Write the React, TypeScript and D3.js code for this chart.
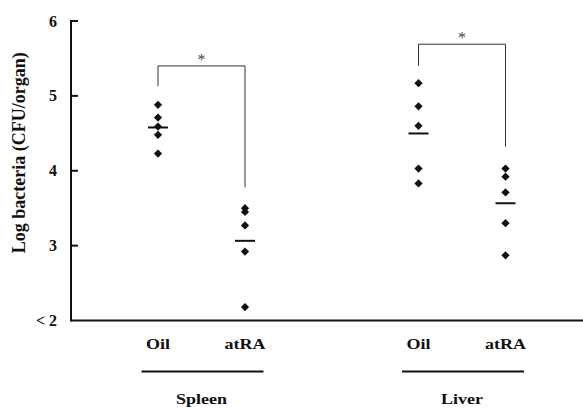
import React from "react";
import * as d3 from "d3";

const WIDTH = 583;
const HEIGHT = 408;
const FONT = '"Liberation Serif", serif';

const organs = ["Spleen", "Liver"];
const treatments = ["Oil", "atRA"];
const yTicks = [2, 3, 4, 5, 6];
const yTickLabels = ["< 2", "3", "4", "5", "6"];

// log CFU per organ
const spleenOil = [4.88, 4.71, 4.59, 4.48, 4.23];
const spleenAtra = [3.5, 3.45, 3.27, 2.92, 2.18];
const liverOil = [5.17, 4.86, 4.6, 4.03, 3.83];
const liverAtra = [4.03, 3.92, 3.71, 3.3, 2.87];

// bracket levels: [top, left leg end, right leg end]
const spleenBracket = [5.4, 5.13, 3.78];
const liverBracket = [5.69, 5.4, 4.32];

const series = [
  { organ: "Spleen", treatment: "Oil", values: spleenOil },
  { organ: "Spleen", treatment: "atRA", values: spleenAtra },
  { organ: "Liver", treatment: "Oil", values: liverOil },
  { organ: "Liver", treatment: "atRA", values: liverAtra },
];

const brackets = [
  { organ: "Spleen", levels: spleenBracket },
  { organ: "Liver", levels: liverBracket },
];

export default function App() {
  const axisX = 71;
  const y = d3.scaleLinear().domain([2, 6]).range([320.5, 21]);
  const xOrgan = d3.scalePoint().domain(organs).range([201.5, 462]);
  const xTreat = d3.scalePoint().domain(treatments).range([-43.5, 43.5]);
  const xPos = (organ: string, t: string) => (xOrgan(organ) ?? 0) + (xTreat(t) ?? 0);

  const diamond = d3.symbol().type(d3.symbolSquare).size(34)() as string;
  const txt = { fontFamily: FONT, fontWeight: 700 } as React.CSSProperties;

  return (
    <svg
      width={WIDTH}
      height={HEIGHT}
      style={{ position: "absolute", left: 0, top: 0, background: "#fff" }}
    >
      {/* y axis */}
      <line x1={axisX} x2={axisX} y1={y(6) - 1} y2={y(2) + 1} stroke="#111" strokeWidth={2} />
      {yTicks.map((t, i) => (
        <g key={t}>
          {t > 2 && (
            <line x1={axisX} x2={axisX + 7} y1={y(t)} y2={y(t)} stroke="#111" strokeWidth={2} />
          )}
          <text
            x={57}
            y={y(t) + 5.5}
            textAnchor="end"
            fontSize={16}
            fill="#111"
            style={txt}
          >
            {yTickLabels[i]}
          </text>
        </g>
      ))}
      <text
        transform={`translate(25,${y(4) - 18}) rotate(-90)`}
        textAnchor="middle"
        fontSize={18}
        fill="#111"
        style={txt}
      >
        Log bacteria (CFU/organ)
      </text>

      {/* x axis */}
      <line x1={axisX} x2={WIDTH} y1={y(2)} y2={y(2)} stroke="#111" strokeWidth={2} />

      {/* category labels */}
      {organs.map((o) => (
        <g key={o}>
          {treatments.map((t) => (
            <text
              key={t}
              transform={`translate(${xPos(o, t)},349) scale(1.2,1)`}
              textAnchor="middle"
              fontSize={15}
              fill="#111"
              style={txt}
            >
              {t}
            </text>
          ))}
          <line
            x1={(xOrgan(o) ?? 0) - 60}
            x2={(xOrgan(o) ?? 0) + 62}
            y1={371.5}
            y2={371.5}
            stroke="#111"
            strokeWidth={2}
          />
          <text
            transform={`translate(${xOrgan(o)},404) scale(1.2,1)`}
            textAnchor="middle"
            fontSize={15}
            fill="#111"
            style={txt}
          >
            {o}
          </text>
        </g>
      ))}

      {/* significance brackets */}
      {brackets.map((b) => {
        const x1 = xPos(b.organ, "Oil");
        const x2 = xPos(b.organ, "atRA");
        const [top, left, right] = b.levels;
        return (
          <g key={b.organ}>
            <path
              d={`M${x1},${y(left)}V${y(top)}H${x2}V${y(right)}`}
              fill="none"
              stroke="#333"
              strokeWidth={1}
            />
            <text
              x={(x1 + x2) / 2}
              y={y(top) - 1}
              textAnchor="middle"
              fontSize={16}
              fill="#444"
              style={{ fontFamily: FONT }}
            >
              *
            </text>
          </g>
        );
      })}

      {/* points and means */}
      {series.map((s) => {
        const cx = xPos(s.organ, s.treatment);
        const m = d3.mean(s.values) ?? 0;
        return (
          <g key={s.organ + s.treatment}>
            {s.values.map((v, i) => (
              <path
                key={i}
                d={diamond}
                transform={`translate(${cx},${y(v)}) rotate(45)`}
                fill="#111"
              />
            ))}
            <line x1={cx - 10} x2={cx + 10} y1={y(m)} y2={y(m)} stroke="#111" strokeWidth={2} />
          </g>
        );
      })}
    </svg>
  );
}
